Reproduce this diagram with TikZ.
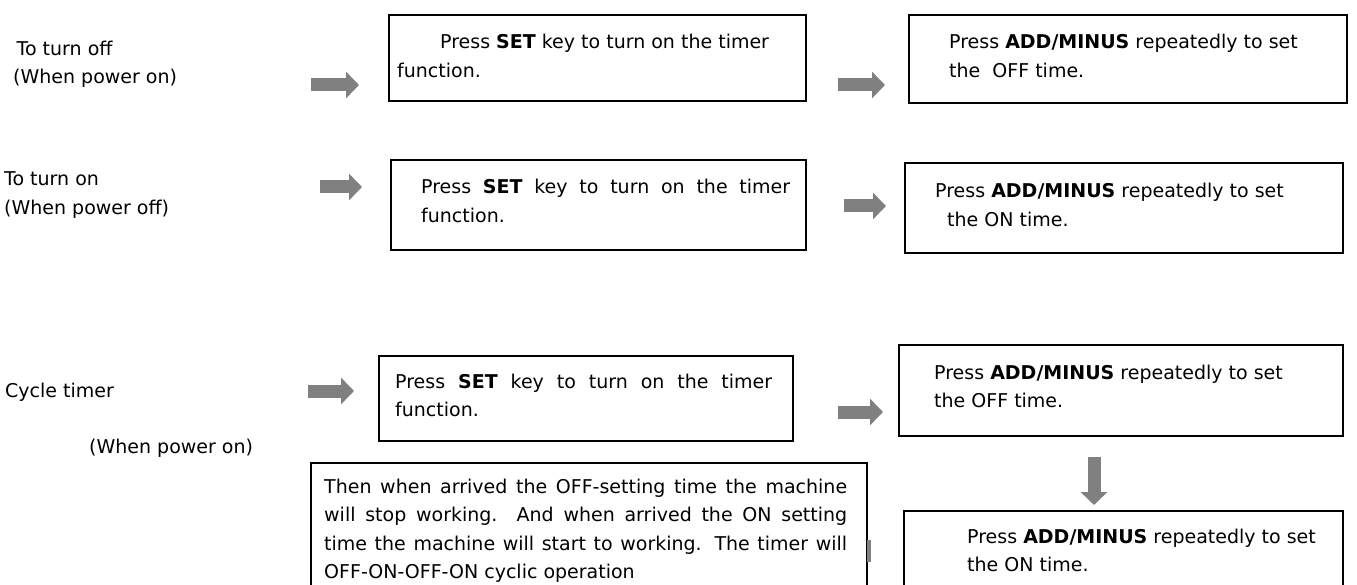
\documentclass[tikz,border=0pt]{standalone}
\usepackage{fontspec}
\setmainfont{DejaVu Sans}
\usetikzlibrary{arrows.meta}
\definecolor{arrowgray}{RGB}{128,128,128}
\tikzset{
  box/.style={draw=black, line width=1.6pt, fill=white, inner sep=0pt, anchor=north west},
  txt/.style={inner sep=0pt, align=left, anchor=base west, font=\fontsize{19}{28.5}\selectfont},
  blockarrow/.style={draw=arrowgray, line width=13pt, -{Triangle[length=13pt,width=26pt]}},
}
\begin{document}
\begin{tikzpicture}[x=1pt,y=-1pt]
\useasboundingbox (0,0) rectangle (1357,585);
\clip (0,0) rectangle (1357,585);
% left labels (anchor = baseline of the last line)
\node[txt] (l1) at (13,84) {\hspace*{3.5pt}To turn off\\(When power on)};
\node[txt] (l2) at (4,214.5) {To turn on\\(When power off)};
\node[txt] (l3) at (5,397) {Cycle timer};
\node[txt] (l4) at (89,453) {(When power on)};
% boxes
\node[box, minimum width=417pt, minimum height=86pt] (b1) at (388,14) {};
\node[box, minimum width=438pt, minimum height=88pt] (b2) at (908,14) {};
\node[box, minimum width=415pt, minimum height=90pt] (b3) at (390,159) {};
\node[box, minimum width=438pt, minimum height=90pt] (b4) at (904,162) {};
\node[box, minimum width=414pt, minimum height=85pt] (b5) at (378,355) {};
\node[box, minimum width=444pt, minimum height=91pt] (b6) at (898,344) {};
\node[box, minimum width=439pt, minimum height=100pt] (b7) at (903,510) {};
\node[box, minimum width=556pt, minimum height=140pt] (b8) at (310,462) {};
% fragment of an arrow partly hidden by the bottom box
\fill[arrowgray] (867,540) rectangle (871,562);
% box texts (anchor = baseline of the last line)
\node[txt] (t1) at (397,77.5) {\hspace*{43pt}Press \textbf{SET} key to turn on the timer\\function.};
\node[txt] (t2) at (949,77.5) {Press \textbf{ADD/MINUS} repeatedly to set\\the\ \ OFF time.};
\node[txt] (t3) at (421,222.5) {\makebox[369pt][s]{Press \textbf{SET} key to turn on the timer}\\function.};
\node[txt] (t4) at (935,226.5) {Press \textbf{ADD/MINUS} repeatedly to set\\\hspace*{12pt}the ON time.};
\node[txt] (t5) at (395,416.5) {\makebox[377pt][s]{Press \textbf{SET} key to turn on the timer}\\function.};
\node[txt] (t6) at (934,407.5) {Press \textbf{ADD/MINUS} repeatedly to set\\the OFF time.};
\node[txt] (t7) at (967,571.5) {Press \textbf{ADD/MINUS} repeatedly to set\\the ON time.};
\node[txt] (t8) at (324,578.5) {\makebox[523pt][s]{Then when arrived the OFF-setting time the machine}\\
\makebox[523pt][s]{will stop working. And when arrived the ON setting}\\
\makebox[523pt][s]{time the machine will start to working. The timer will}\\
OFF-ON-OFF-ON cyclic operation};
% arrows
\coordinate (a1s) at (311,85);  \coordinate (a1e) at (359,85);
\coordinate (a2s) at (838,85);  \coordinate (a2e) at (885,85);
\coordinate (a3s) at (320,187); \coordinate (a3e) at (362,187);
\coordinate (a4s) at (844,206); \coordinate (a4e) at (886,206);
\coordinate (a5s) at (308,391); \coordinate (a5e) at (354,391);
\coordinate (a6s) at (838,412); \coordinate (a6e) at (883,412);
\coordinate (a7s) at (1094,457); \coordinate (a7e) at (1094,505);
\draw[blockarrow] (a1s) -- (a1e);
\draw[blockarrow] (a2s) -- (a2e);
\draw[blockarrow] (a3s) -- (a3e);
\draw[blockarrow] (a4s) -- (a4e);
\draw[blockarrow] (a5s) -- (a5e);
\draw[blockarrow] (a6s) -- (a6e);
\draw[blockarrow] (a7s) -- (a7e);
\end{tikzpicture}
\end{document}
